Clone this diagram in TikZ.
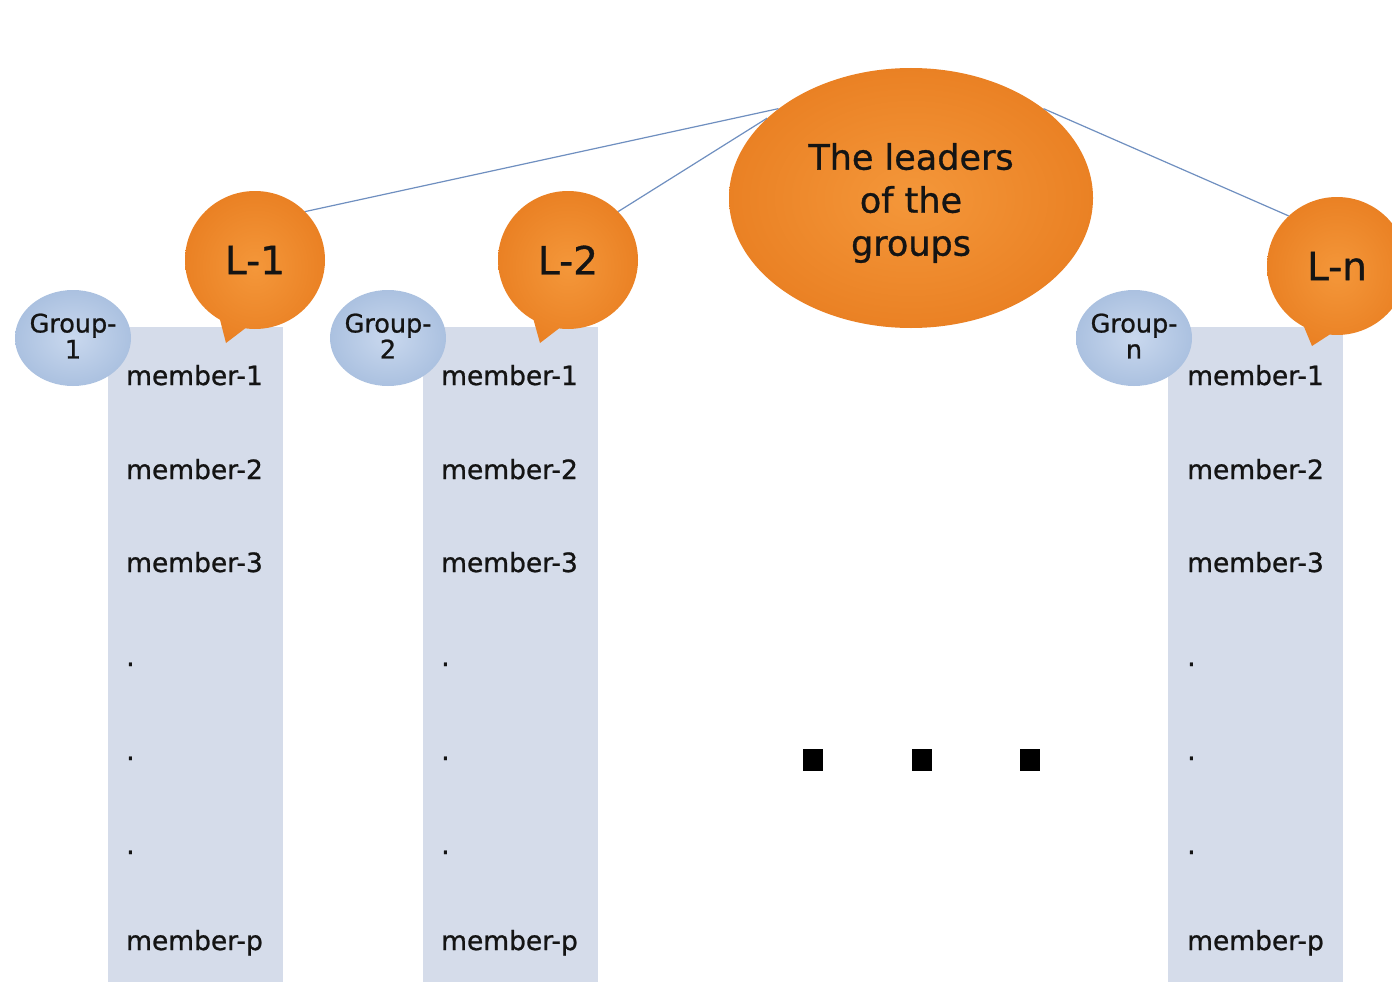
\documentclass[tikz,border=0pt]{standalone}
\usepackage{fontspec}
\setmainfont{DejaVu Sans}[FakeBold=0.9]
\usetikzlibrary{shapes.geometric,shapes.callouts}
\definecolor{colbg}{HTML}{D5DCEA}
\definecolor{orin}{HTML}{F4973A}
\definecolor{orout}{HTML}{EA8124}
\definecolor{blin}{HTML}{C9D8EE}
\definecolor{blout}{HTML}{ABC1E0}
\definecolor{linkc}{HTML}{6F8FC0}
\definecolor{txt}{HTML}{141414}
\tikzset{
  colbox/.style={fill=colbg, draw=none, minimum width=175pt, inner sep=0pt, anchor=north west},
  grp/.style={ellipse, shading=radial, inner color=blin, outer color=blout, draw=none,
    minimum width=116pt, minimum height=96pt, inner sep=0pt},
  grptxt/.style={align=center, text=txt, inner sep=0pt, font=\fontsize{25.5}{27}\selectfont},
  leader/.style={ellipse callout, shading=radial, inner color=orin, outer color=orout, draw=none,
    minimum width=140pt, minimum height=138pt, inner sep=0pt, text=txt,
    callout pointer arc=22, font=\fontsize{39}{42}\selectfont},
  big/.style={ellipse, shading=radial, inner color=orin, outer color=orout, draw=none,
    minimum width=364pt, minimum height=260pt, inner sep=0pt},
  bigtxt/.style={align=center, text=txt, inner sep=0pt, font=\fontsize{35}{43}\selectfont},
  mem/.style={anchor=base west, inner sep=0pt, text=txt, font=\fontsize{26.5}{28}\selectfont},
  link/.style={draw=linkc, line width=1.2pt},
  sq/.style={fill=black, draw=none, minimum width=20pt, minimum height=22pt, inner sep=0pt}
}
\begin{document}
\begin{tikzpicture}[x=1pt,y=-1pt]
\useasboundingbox (0,0) rectangle (1392,982);
\fill[white] (0,0) rectangle (1392,982);
\clip (0,0) rectangle (1392,982);
% columns
\node[colbox, minimum height=655pt] (c1) at (108,327) {};
\node[colbox, minimum height=655pt] (c2) at (423,327) {};
\node[colbox, minimum height=655pt] (c3) at (1168,327) {};
% member texts
\foreach \x/\c in {126/a,441/b,1187/c}{
  \node[mem] (\c1) at (\x,385) {member-1};
  \node[mem] (\c2) at (\x,479) {member-2};
  \node[mem] (\c3) at (\x,572) {member-3};
  \node[mem] (\c4) at (\x,666) {.};
  \node[mem] (\c5) at (\x,760) {.};
  \node[mem] (\c6) at (\x,854) {.};
  \node[mem] (\c7) at (\x,950) {member-p};
}
% group ellipses
\node[grp] (g1) at (73,338) {};
\node[grp] (g2) at (388,338) {};
\node[grp] (g3) at (1134,338) {};
\node[grptxt] (g1t) at (73,336) {Group-\\[-1pt]1};
\node[grptxt] (g2t) at (388,336) {Group-\\[-1pt]2};
\node[grptxt] (g3t) at (1134,336) {Group-\\[-1pt]n};
% big ellipse
\node[big] (lead) at (911,198) {};
\node[bigtxt] (leadtxt) at (911,203) {The leaders\\of the\\groups};
% leaders
\node[leader, callout absolute pointer={(226,343)}] (L1) at (255,260) {L-1};
\node[leader, callout absolute pointer={(540,343)}] (L2) at (568,260) {L-2};
\node[leader, callout absolute pointer={(1312,346)}] (Ln) at (1337,266) {L-n};
% links
\draw[link] (L1.44) -- (lead.146);
\draw[link] (L2.44) -- (lead.151);
\draw[link] (lead.34) -- (Ln.134);
% dots
\node[sq] (d1) at (813,760) {};
\node[sq] (d2) at (922,760) {};
\node[sq] (d3) at (1030,760) {};
\end{tikzpicture}
\end{document}
